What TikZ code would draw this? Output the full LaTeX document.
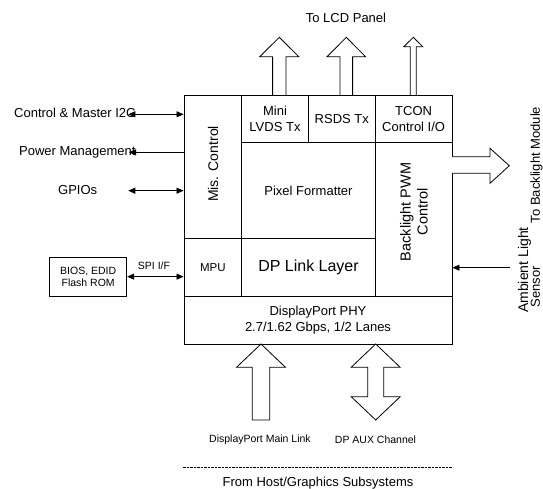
\documentclass[tikz,border=0pt]{standalone}
\usepackage{fontspec}
\setmainfont{Liberation Sans}
\usetikzlibrary{arrows.meta,calc}
\begin{document}
\begin{tikzpicture}[x=1pt,y=-1pt,
  >={Triangle[length=7pt,width=6pt]},
  every node/.style={font=\fontsize{13}{15.5}\selectfont},
  blk/.style={draw,line width=0.9pt,inner sep=0pt,align=center},
  lbl/.style={inner sep=0pt,align=center},
  small/.style={font=\fontsize{10.5}{11.5}\selectfont},
  conn/.style={line width=0.8pt},
  bigarrow/.style={draw,line width=0.8pt,fill=white,line join=miter}]
\useasboundingbox (0,0) rectangle (543,489);

% blocks
\node[blk,minimum width=57.7pt,minimum height=143.3pt] (misc) at (212.85,166.65) {};
\node[rotate=90,font=\fontsize{14}{16}\selectfont] (misctxt) at (213,164) {Mis. Control};
\node[blk,font=\fontsize{11.5}{13}\selectfont,minimum width=57.7pt,minimum height=57.7pt] (mpu) at (212.85,267.15) {MPU};
\node[blk,minimum width=66.6pt,minimum height=47.7pt] (lvds) at (275,118.85) {Mini\\LVDS Tx};
\node[blk,minimum width=67pt,minimum height=47.7pt] (rsds) at (341.8,118.85) {RSDS Tx};
\node[blk,minimum width=76.7pt,minimum height=47.7pt] (tcon) at (413.65,118.85) {TCON\\Control I/O};
\node[blk,minimum width=133.6pt,minimum height=95.6pt] (pix) at (308.5,190.5) {Pixel Formatter};
\node[blk,font=\fontsize{16}{18}\selectfont,minimum width=133.6pt,minimum height=57.7pt] (dpl) at (308.5,267.15) {DP Link Layer};
\node[blk,minimum width=76.7pt,minimum height=153.3pt] (bl) at (413.65,219.35) {};
\node[rotate=90,lbl,font=\fontsize{14.5}{17}\selectfont] (bltxt) at (414,212) {Backlight PWM\\Control};
\node[blk,font=\fontsize{13}{16.5}\selectfont,minimum width=268pt,minimum height=48pt] (phy) at (318,320) {DisplayPort PHY\\2.7/1.62 Gbps, 1/2 Lanes};
\node[blk,small,minimum width=77pt,minimum height=38.7pt] (bios) at (88.2,276.65) {BIOS, EDID\\Flash ROM};

% left side labels and connectors
\node[lbl,anchor=west] (i2c) at (14,113) {Control \& Master I2C};
\node[lbl,anchor=west] (pm) at (19,152.5) {Power Management};
\node[lbl] (gpio) at (77.7,190) {GPIOs};
\coordinate (i2cend) at (128.3,114.3);
\coordinate (pmend) at (129,152.3);
\coordinate (gpioend) at (128.3,190.7);
\draw[conn,<->] (i2cend) -- (i2cend -| misc.west);
\draw[conn,->] (pmend -| misc.west) -- (pmend);
\draw[conn,<->] (gpioend) -- (gpioend -| misc.west);

% SPI
\draw[conn,<->] (bios.east) -- (bios.east -| mpu.west);
\node[lbl,small] (spi) at (154,266) {SPI I/F};

% ambient light sensor
\node[lbl,rotate=90,font=\fontsize{14}{16}\selectfont] (amb) at (524.5,270) {Ambient Light};
\node[lbl,rotate=90] (sens) at (535.5,287) {Sensor};
\coordinate (ambend) at (510,267.7);
\draw[conn,->] (ambend) -- (ambend -| bl.east);

% to backlight module
\draw[bigarrow] (452,156.7) -- (490,156.7) -- (490,148.3) -- (509.3,165.7) -- (490,183.3) -- (490,173.3) -- (452,173.3);
\node[lbl,rotate=90] (tobl) at (536.5,165) {To Backlight Module};

% top arrows
\draw[bigarrow] (272.6,95) -- (272.6,56.7) -- (259.8,56.7) -- (279.3,37.3) -- (298.8,56.7) -- (286,56.7) -- (286,95);
\draw[bigarrow] (340,95) -- (340,56.7) -- (327.1,56.7) -- (346.3,37.3) -- (365.5,56.7) -- (352.6,56.7) -- (352.6,95);
\draw[bigarrow] (410.3,95) -- (410.3,46.7) -- (403.8,46.7) -- (413.3,37.3) -- (422.8,46.7) -- (416.3,46.7) -- (416.3,95);
\node[lbl] (lcd) at (346,18.3) {To LCD Panel};

% bottom arrows
\draw[bigarrow] (252.3,420) -- (252.3,367.3) -- (236.5,367.3) -- (261,344) -- (285.5,367.3) -- (269.7,367.3) -- (269.7,420) -- cycle;
\draw[bigarrow] (375.7,344) -- (400.2,367.3) -- (383.7,367.3) -- (383.7,396.7) -- (400.2,396.7) -- (375.7,420) -- (351.2,396.7) -- (367.7,396.7) -- (367.7,367.3) -- (351.2,367.3) -- cycle;
\node[lbl,small] (mainlink) at (260,439.3) {DisplayPort Main Link};
\node[lbl,small] (aux) at (375.5,439.3) {DP AUX Channel};

% host
\coordinate (dashl) at (183,467.7);
\coordinate (dashr) at (451.7,467.7);
\draw[line width=0.6pt,dash pattern=on 2.5pt off 1pt] (dashl) -- (dashr);
\node[lbl] (host) at (318,483) {From Host/Graphics Subsystems};
\end{tikzpicture}
\end{document}
